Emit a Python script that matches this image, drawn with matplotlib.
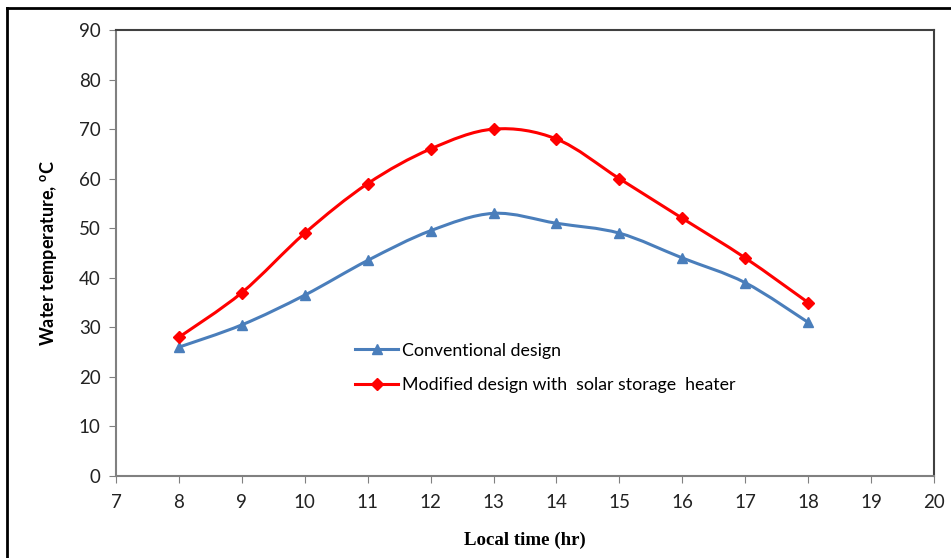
import numpy as np
import matplotlib.pyplot as plt
from matplotlib.path import Path
from matplotlib.patches import PathPatch
from matplotlib.lines import Line2D

hours = [8, 9, 10, 11, 12, 13, 14, 15, 16, 17, 18]
conventional = [26, 30.5, 36.5, 43.5, 49.5, 53, 51, 49, 44, 39, 31]
modified = [28, 37, 49, 59, 66, 70, 68, 60, 52, 44, 35]

x_ticks = list(range(7, 21))
y_ticks = list(range(0, 100, 10))

plt.rcParams['font.family'] = ['Lato', 'DejaVu Sans']


def smooth_path(xs, ys):
    # excel-style smoothed line: bezier with control points from neighbours
    pts = np.column_stack([xs, ys]).astype(float)
    n = len(pts)
    verts = [pts[0]]
    codes = [Path.MOVETO]
    for i in range(n - 1):
        p0 = pts[max(i - 1, 0)]
        p1 = pts[i]
        p2 = pts[i + 1]
        p3 = pts[min(i + 2, n - 1)]
        c1 = p1 + (p2 - p0) / 6
        c2 = p2 - (p3 - p1) / 6
        verts += [c1, c2, p2]
        codes += [Path.CURVE4] * 3
    return Path(verts, codes)


fig = plt.figure(figsize=(9.51, 5.58), dpi=100)
ax = fig.add_axes([116/951, 1 - 476/558, (934-116)/951, (476-30)/558])

series = [
    (conventional, '#4a7ebb', '^', 7, 'Conventional design'),
    (modified, '#ff0000', 'D', 6, 'Modified design with  solar storage  heater'),
]
handles = []
for vals, col, mk, ms, lab in series:
    ax.add_patch(PathPatch(smooth_path(hours, vals), facecolor='none',
                           edgecolor=col, lw=2.2, zorder=2))
    ax.plot(hours, vals, ls='none', marker=mk, color=col, ms=ms, zorder=3)
    handles.append(Line2D([], [], color=col, lw=2.2, marker=mk, ms=ms, label=lab))

ax.set_xlim(7, 20)
ax.set_ylim(0, 90)
ax.set_xticks(x_ticks)
ax.set_yticks(y_ticks)
ax.tick_params(direction='out', length=5, color='#808080', labelsize=13.5,
               labelcolor='#222222', pad=6)
ax.tick_params(axis='x', pad=8)
for s in ['left', 'bottom']:
    ax.spines[s].set_color('#808080')
    ax.spines[s].set_linewidth(1.5)
for s in ['top', 'right']:
    ax.spines[s].set_color('#404040')
    ax.spines[s].set_linewidth(1.5)

ax.set_ylabel('Water temperature, $^{\\mathregular{o}}$C', fontsize=13,
              fontweight='bold', labelpad=14)
ax.set_xlabel('Local time (hr)', fontsize=13.6, fontweight='bold',
              family=['Liberation Serif', 'DejaVu Serif'], labelpad=15)

ax.legend(handles=handles, loc='upper left', bbox_to_anchor=(0.273, 0.335),
          frameon=False, fontsize=12.8, handlelength=2.4, handletextpad=0.2,
          labelspacing=1.05)

# outer frame, left and top only
fig.add_artist(Line2D([7/951, 7/951], [0, 1 - 8/558], color='black', lw=2,
                      transform=fig.transFigure))
fig.add_artist(Line2D([7/951, 1], [1 - 8/558, 1 - 8/558], color='black', lw=2,
                      transform=fig.transFigure))

fig.savefig('out.png', dpi=100)
